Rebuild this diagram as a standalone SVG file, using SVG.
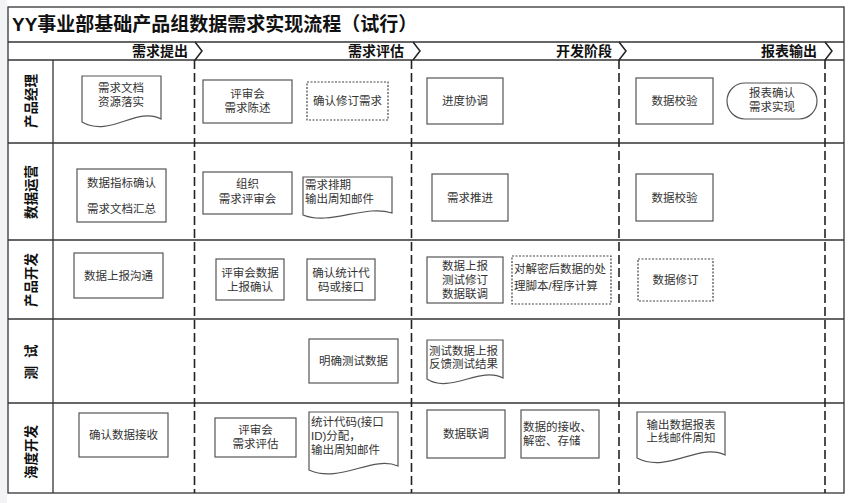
<svg xmlns="http://www.w3.org/2000/svg" width="864" height="503" viewBox="0 0 864 503">
<style>
text{font-family:"Liberation Sans","Noto Sans CJK SC",sans-serif;fill:#333;}
.title{font-size:19px;font-weight:bold;fill:#111;}
.phase{font-size:14px;font-weight:bold;fill:#111;text-anchor:end;}
.lane{font-size:13.5px;font-weight:bold;fill:#111;text-anchor:middle;dominant-baseline:central;}
.t{font-size:11.5px;text-anchor:middle;}
.tl{font-size:11.5px;text-anchor:start;}
.frame{fill:none;stroke:#333;stroke-width:1.3;}
.box{fill:#fff;stroke:#555;stroke-width:1.2;}
.dot{fill:#fff;stroke:#444;stroke-width:1.2;stroke-dasharray:2 1.5;}
.div{fill:none;stroke:#222;stroke-width:1.6;stroke-dasharray:9 4;}
.chev{fill:none;stroke:#222;stroke-width:1.5;}
</style>
<rect x="0" y="0" width="864" height="503" fill="#fff"/>
<rect x="0" y="0" width="7" height="503" fill="#f2f3f5"/>
<g id="frame">
<rect class="frame" x="8" y="7" width="836" height="486"/>
<line class="frame" x1="8" y1="42" x2="844" y2="42"/>
<line class="frame" x1="8" y1="60" x2="844" y2="60"/>
<line class="frame" x1="8" y1="143" x2="844" y2="143"/>
<line class="frame" x1="8" y1="240" x2="844" y2="240"/>
<line class="frame" x1="8" y1="319" x2="844" y2="319"/>
<line class="frame" x1="8" y1="403" x2="844" y2="403"/>
<line class="frame" x1="53" y1="60" x2="53" y2="493"/>
<text class="title" x="12" y="31">YY事业部基础产品组数据需求实现流程（试行）</text>
</g>
<g id="phases">
<text class="phase" x="188" y="56">需求提出</text>
<text class="phase" x="404" y="56">需求评估</text>
<text class="phase" x="612" y="56">开发阶段</text>
<text class="phase" x="817" y="56">报表输出</text>
<polyline class="chev" points="195,42 202,51 195,60"/>
<polyline class="chev" points="413,42 420,51 413,60"/>
<polyline class="chev" points="619,42 626,51 619,60"/>
<polyline class="chev" points="825,42 832,51 825,60"/>
<line class="div" x1="194.5" y1="60" x2="194.5" y2="493"/>
<line class="div" x1="411.5" y1="60" x2="411.5" y2="493"/>
<line class="div" x1="619" y1="60" x2="619" y2="493"/>
<line class="div" x1="825" y1="60" x2="825" y2="493"/>
</g>
<g id="lanes">
<text class="lane" transform="translate(31,101) rotate(-90)">产品经理</text>
<text class="lane" transform="translate(31,192) rotate(-90)">数据运营</text>
<text class="lane" transform="translate(31,280) rotate(-90)">产品开发</text>
<text class="lane" transform="translate(31,362) rotate(-90)">测<tspan dx="8">试</tspan></text>
<text class="lane" transform="translate(31,452) rotate(-90)">海度开发</text>
</g>
<g id="connectors"></g>
<!-- row 1 -->
<g id="n-doc-xqwd">
<path class="box" d="M82,76 H161 V119 C137,106 110,138 82,122 Z"/>
<text class="t" x="121" y="92">需求文档</text>
<text class="t" x="121" y="106">资源落实</text>
</g>
<g id="n-psh-xqcs">
<rect class="box" x="203" y="80" width="89" height="43"/>
<text class="t" x="247.5" y="98">评审会</text>
<text class="t" x="247.5" y="112">需求陈述</text>
</g>
<g id="n-qrxdxq">
<rect class="dot" x="307" y="82" width="81" height="38"/>
<text class="t" x="347.5" y="105">确认修订需求</text>
</g>
<g id="n-jdxt">
<rect class="box" x="427" y="78" width="76" height="46"/>
<text class="t" x="465" y="105">进度协调</text>
</g>
<g id="n-sjjy1">
<rect class="box" x="636" y="78" width="77" height="46"/>
<text class="t" x="674.5" y="105">数据校验</text>
</g>
<g id="n-bbqr">
<rect class="box" x="727" y="83" width="90" height="36" rx="18" ry="18"/>
<text class="t" x="772" y="97">报表确认</text>
<text class="t" x="772" y="111">需求实现</text>
</g>
<!-- row 2 -->
<g id="n-sjzb">
<rect class="box" x="77" y="169" width="89" height="53"/>
<text class="t" x="121.5" y="187">数据指标确认</text>
<text class="t" x="121.5" y="213">需求文档汇总</text>
</g>
<g id="n-zzpsh">
<rect class="box" x="203" y="172" width="89" height="42"/>
<text class="t" x="247.5" y="188">组织</text>
<text class="t" x="247.5" y="203">需求评审会</text>
</g>
<g id="n-doc-xqpq">
<path class="box" d="M303,177 H392 V213 C365,204 330,226 303,215 Z"/>
<text class="tl" x="305" y="189">需求排期</text>
<text class="tl" x="305" y="203">输出周知邮件</text>
</g>
<g id="n-xqtj">
<rect class="box" x="432" y="174" width="76" height="47"/>
<text class="t" x="470" y="201.5">需求推进</text>
</g>
<g id="n-sjjy2">
<rect class="box" x="636" y="174" width="77" height="47"/>
<text class="t" x="674.5" y="201.5">数据校验</text>
</g>
<!-- row 3 -->
<g id="n-sjsbgt">
<rect class="box" x="74" y="253" width="89" height="45"/>
<text class="t" x="118.5" y="279.5">数据上报沟通</text>
</g>
<g id="n-pshsj">
<rect class="box" x="216" y="259" width="68" height="41"/>
<text class="t" x="250" y="277">评审会数据</text>
<text class="t" x="250" y="291">上报确认</text>
</g>
<g id="n-qrtjdm">
<rect class="box" x="307" y="259" width="68" height="41"/>
<text class="t" x="341" y="277">确认统计代</text>
<text class="t" x="341" y="291">码或接口</text>
</g>
<g id="n-sjsb">
<rect class="box" x="427" y="257" width="76" height="46"/>
<text class="t" x="465" y="270">数据上报</text>
<text class="t" x="465" y="284">测试修订</text>
<text class="t" x="465" y="298">数据联调</text>
</g>
<g id="n-djmh">
<rect class="dot" x="512" y="256" width="99" height="48"/>
<text class="tl" x="514" y="273">对解密后数据的处</text>
<text class="tl" x="514" y="290">理脚本/程序计算</text>
</g>
<g id="n-sjxd">
<rect class="dot" x="638" y="259" width="75" height="42"/>
<text class="t" x="675.5" y="284">数据修订</text>
</g>
<!-- row 4 -->
<g id="n-mqcssj">
<rect class="box" x="309" y="339" width="89" height="44"/>
<text class="t" x="353.5" y="365">明确测试数据</text>
</g>
<g id="n-doc-cssj">
<path class="box" d="M427,340 H503 V378 C480,366 450,394 427,379 Z"/>
<text class="tl" x="429" y="355">测试数据上报</text>
<text class="tl" x="429" y="368">反馈测试结果</text>
</g>
<!-- row 5 -->
<g id="n-qrsjjs">
<rect class="box" x="79" y="413" width="89" height="44"/>
<text class="t" x="123.5" y="439">确认数据接收</text>
</g>
<g id="n-psh-xqpg">
<rect class="box" x="215" y="418" width="81" height="39"/>
<text class="t" x="255.5" y="434">评审会</text>
<text class="t" x="255.5" y="448">需求评估</text>
</g>
<g id="n-doc-tjdm">
<path class="box" d="M309,412 H398 V466 C372,455 340,484 309,470 Z"/>
<text class="tl" x="311" y="426">统计代码(接口</text>
<text class="tl" x="311" y="440">ID)分配，</text>
<text class="tl" x="311" y="454">输出周知邮件</text>
</g>
<g id="n-sjlt">
<rect class="box" x="427" y="410" width="78" height="48"/>
<text class="t" x="466" y="438">数据联调</text>
</g>
<g id="n-sjjs">
<rect class="box" x="521" y="410" width="78" height="48"/>
<text class="tl" x="523" y="431">数据的接收、</text>
<text class="tl" x="523" y="445">解密、存储</text>
</g>
<g id="n-doc-scsj">
<path class="box" d="M637,412 H725 V455 C700,442 668,474 637,458 Z"/>
<text class="t" x="681" y="429">输出数据报表</text>
<text class="t" x="681" y="442">上线邮件周知</text>
</g>
</svg>
